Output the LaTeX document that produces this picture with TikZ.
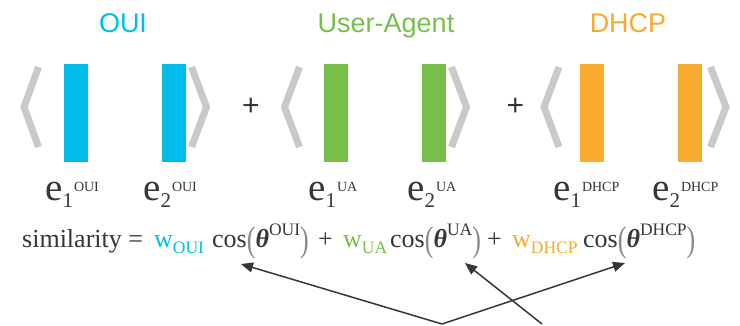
\documentclass[tikz,border=0pt]{standalone}
\usepackage{graphicx}
\usepackage{fontspec}
\setmainfont{Liberation Serif}
\newfontfamily\titlefont{Liberation Sans}
\usetikzlibrary{arrows.meta}
\definecolor{ouic}{HTML}{00BCEA}
\definecolor{uac}{HTML}{78BE4B}
\definecolor{dhcpc}{HTML}{F8AA2E}
\definecolor{brk}{HTML}{C9C9C9}
\definecolor{ink}{HTML}{363636}
\definecolor{paren}{HTML}{8A8A8A}
\newcommand\elab[2]{e\raisebox{-7pt}{\fontsize{21}{21}\selectfont #1}\hspace{1pt}\raisebox{9pt}{\fontsize{14}{14}\selectfont #2}}
\newcommand\wsub[2]{{\color{#1}w\raisebox{-6pt}{\fontsize{17.5}{18}\selectfont #2}}}
\newcommand\lpar{{\color{paren}\raisebox{-4.5pt}{\scalebox{1}[1.38]{(}}}}
\newcommand\rpar{{\color{paren}\raisebox{-4.5pt}{\scalebox{1}[1.38]{)}}}}
\newcommand\costh[1]{cos\lpar{\bfseries\itshape θ}\raisebox{12pt}{\fontsize{17.5}{18}\selectfont #1}\rpar}
\begin{document}
\begin{tikzpicture}[x=1pt,y=-1pt,
  bar/.style={minimum width=24pt,minimum height=98pt,inner sep=0pt,draw=none},
  brkline/.style={draw=brk,line width=7pt,line cap=butt,line join=miter},
  ttl/.style={font=\titlefont\fontsize{27}{30}\selectfont,anchor=base,inner sep=0pt},
  plus/.style={font=\titlefont\fontsize{30}{30}\selectfont,text=ink,inner sep=0pt},
  elabel/.style={font=\fontsize{39}{40}\selectfont,text=ink,anchor=base west,inner sep=0pt},
  frm/.style={font=\fontsize{26}{28}\selectfont,text=ink,anchor=base west,inner sep=0pt},
  arr/.style={draw=ink,line width=1.5pt,-{Triangle[length=12pt,width=10pt]}}]
\useasboundingbox (0,0) rectangle (740,325);
% titles
\node[ttl,text=ouic] (toui) at (123,32) {OUI};
\node[ttl,text=uac] (tua) at (386,32) {User-Agent};
\node[ttl,text=dhcpc] (tdhcp) at (628,32) {DHCP};
% bars
\node[bar,fill=ouic] (o1) at (76,113) {};
\node[bar,fill=ouic] (o2) at (174,113) {};
\node[bar,fill=uac] (u1) at (336,113) {};
\node[bar,fill=uac] (u2) at (434,113) {};
\node[bar,fill=dhcpc] (d1) at (592,113) {};
\node[bar,fill=dhcpc] (d2) at (690,113) {};
% brackets
\draw[brkline] (38.5,67) -- (24,107) -- (38.5,147);
\draw[brkline] (191.5,67) -- (206.5,107) -- (191.5,147);
\draw[brkline] (299.5,67) -- (284.5,107) -- (299.5,147);
\draw[brkline] (451.5,67) -- (466.5,107) -- (451.5,147);
\draw[brkline] (559,67) -- (544,107) -- (559,147);
\draw[brkline] (710.5,67) -- (726,107) -- (710.5,147);
% plus signs
\node[plus] (p1) at (251,107) {+};
\node[plus] (p2) at (515.5,107) {+};
% e labels
\node[elabel] (eo1) at (45,200) {\elab{1}{OUI}};
\node[elabel] (eo2) at (143,200) {\elab{2}{OUI}};
\node[elabel] (eu1) at (308,200) {\elab{1}{UA}};
\node[elabel] (eu2) at (407,200) {\elab{2}{UA}};
\node[elabel] (ed1) at (553,200) {\elab{1}{DHCP}};
\node[elabel] (ed2) at (652,200) {\elab{2}{DHCP}};
% formula
\node[frm] (sim) at (22,247) {similarity =};
\node[frm] (woui) at (154,247) {\wsub{ouic}{OUI}};
\node[frm] (coui) at (212,247) {\costh{OUI}};
\node[frm] (f1) at (318,247) {+};
\node[frm] (wua) at (343,247) {\wsub{uac}{UA}};
\node[frm] (cua) at (390,247) {\costh{UA}};
\node[frm] (f2) at (487,247) {+};
\node[frm] (wdh) at (512,247) {\wsub{dhcpc}{DHCP}};
\node[frm] (cdh) at (583,247) {\costh{DHCP}};
% arrows
\coordinate (hub) at (442,324);
\coordinate (src) at (542,324);
\coordinate (aoui) at (241,264);
\coordinate (aua) at (465,263);
\coordinate (adh) at (625,263);
\draw[arr] (hub) -- (aoui);
\draw[arr] (hub) -- (adh);
\draw[arr] (src) -- (aua);
\end{tikzpicture}
\end{document}
